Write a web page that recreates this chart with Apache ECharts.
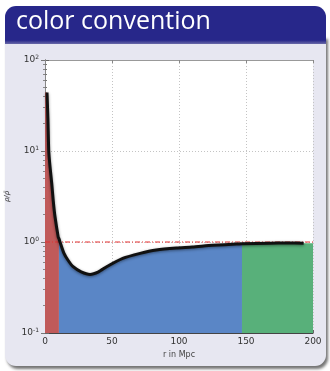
<!DOCTYPE html>
<html>
<head>
<meta charset="utf-8">
<script src="https://cdn.jsdelivr.net/npm/echarts@6/dist/echarts.min.js"></script>
<style>
  html, body { margin: 0; padding: 0; background: #ffffff; }
  #chart { width: 330px; height: 371px; }
</style>
</head>
<body>
<div id="chart"></div>
<script>
// Radial density profile rho/rho_bar against distance r (Mpc)
const radius  = [1.5, 2.2, 2.8, 3.8, 5.0, 6.2, 7.5, 9.9, 10.4, 11.2, 14, 17.2, 21, 27, 33.6, 40, 46, 58, 71, 83, 98, 110, 125, 143, 147, 168, 180, 193];
const density = [44, 22, 10, 6.6, 4.45, 2.8, 1.88, 1.13, 1.09, 1.0, 0.76, 0.63, 0.535, 0.47, 0.44, 0.47, 0.535, 0.66, 0.75, 0.817, 0.86, 0.88, 0.92, 0.95, 0.955, 0.97, 0.975, 0.97];

// Colour bands along r: inner / shell / outer
const bandEdges  = [0, 10.4, 147, 200];
const bandColors = ['#c05a5a', '#5a86c6', '#58b07a'];

const xTicks = [0, 50, 100, 150, 200];
const meanLevel = 1;

const profile = radius.map((r, i) => [r, density[i]]);

function bandSlice(a, b) {
  const pts = profile.filter(p => p[0] >= a && p[0] <= b);
  if (a < pts[0][0]) pts.unshift([a, pts[0][1]]);
  if (b > pts[pts.length - 1][0]) pts.push([b, pts[pts.length - 1][1]]);
  return pts;
}

const bandSeries = bandColors.map((c, i) => ({
  type: 'line',
  data: bandSlice(bandEdges[i], bandEdges[i + 1]),
  symbol: 'none',
  smooth: 0.2,
  lineStyle: { width: 0 },
  areaStyle: { color: c, opacity: 1, origin: 'start' },
  silent: true,
  z: 2
}));

const tickFont = 'DejaVu Sans';

const chart = echarts.init(document.getElementById('chart'));
chart.setOption({
  animation: false,
  backgroundColor: '#ffffff',
  graphic: {
    elements: [
      {
        type: 'rect', z: -20,
        shape: { x: 5, y: 36, width: 321, height: 330, r: [0, 0, 11, 11] },
        style: { fill: '#e7e7f1', shadowBlur: 3, shadowOffsetX: 2, shadowOffsetY: 3, shadowColor: 'rgba(0,0,0,0.55)' }
      },
      {
        type: 'rect', z: -19,
        shape: { x: 5, y: 6, width: 321, height: 38, r: [11, 11, 0, 0] },
        style: {
          fill: new echarts.graphic.LinearGradient(0, 0, 0, 1, [
            { offset: 0, color: '#27278a' },
            { offset: 0.9, color: '#27278a' },
            { offset: 1, color: '#6a6aa8' }
          ])
        }
      },
      {
        type: 'text', z: -18, left: 16, top: 9,
        style: { text: 'color convention', fill: '#ffffff', font: '25px "Open Sans"' }
      }
    ]
  },
  grid: {
    left: 45, right: 17, top: 60, bottom: 38,
    outerBoundsMode: 'none', containLabel: false,
    show: true, backgroundColor: '#ffffff', borderWidth: 0
  },
  xAxis: [
    {
      type: 'value', min: 0, max: 200, interval: 50,
      name: 'r in Mpc', nameLocation: 'middle', nameGap: 17,
      nameTextStyle: { fontSize: 8, color: '#444', fontFamily: tickFont },
      axisLine: { lineStyle: { color: '#444', width: 1 } },
      axisTick: { inside: true, length: 3, lineStyle: { color: '#666' } },
      axisLabel: { color: '#333', fontSize: 9, fontFamily: tickFont, margin: 4,
        formatter: v => xTicks.includes(v) ? String(v) : '' },
      splitLine: { show: true, lineStyle: { color: '#c4c4c4', type: [1, 2], width: 1 } }
    },
    {
      type: 'value', min: 0, max: 200, interval: 50, position: 'top',
      axisLine: { lineStyle: { color: '#999', width: 1 } },
      axisTick: { inside: true, length: 3, lineStyle: { color: '#888' } },
      axisLabel: { show: false },
      splitLine: { show: false }
    }
  ],
  yAxis: [
    {
      type: 'log', logBase: 10, min: 0.1, max: 100,
      name: 'ρ/ρ̄', nameLocation: 'middle', nameGap: 23, nameRotate: 90,
      nameTextStyle: { fontSize: 7, color: '#444', fontStyle: 'italic', fontFamily: tickFont },
      axisLine: { lineStyle: { color: '#444', width: 1 } },
      axisTick: { inside: true, length: 4, lineStyle: { color: '#666' } },
      minorTick: { show: true, splitNumber: 9, length: 2, lineStyle: { color: '#777' } },
      axisLabel: {
        margin: 6,
        formatter: v => '{b|10}{s|' + Math.round(Math.log10(v)) + '}',
        rich: {
          b: { fontSize: 9, color: '#333', fontFamily: tickFont },
          s: { fontSize: 6, color: '#333', fontFamily: tickFont, padding: [0, 0, 6, 0] }
        }
      },
      splitLine: { show: true, lineStyle: { color: '#c4c4c4', type: [1, 2], width: 1 } }
    },
    {
      type: 'log', logBase: 10, min: 0.1, max: 100, position: 'right',
      axisLine: { lineStyle: { color: '#888', width: 1 } },
      axisTick: { inside: true, length: 4, lineStyle: { color: '#777' } },
      minorTick: { show: true, splitNumber: 9, length: 2, lineStyle: { color: '#888' } },
      axisLabel: { show: false },
      splitLine: { show: false }
    }
  ],
  series: [
    ...bandSeries,
    {
      type: 'line',
      data: [[xTicks[0], meanLevel], [xTicks[xTicks.length - 1], meanLevel]],
      symbol: 'none', silent: true, z: 3,
      lineStyle: { color: '#e43030', width: 1, type: [5, 2, 1, 2] }
    },
    {
      type: 'line',
      data: profile,
      symbol: 'none', smooth: 0.2, silent: true, z: 4,
      lineStyle: { color: '#111111', width: 3, shadowColor: 'rgba(0,0,0,0.45)', shadowBlur: 3, shadowOffsetY: 1 }
    }
  ]
});
</script>
</body>
</html>
